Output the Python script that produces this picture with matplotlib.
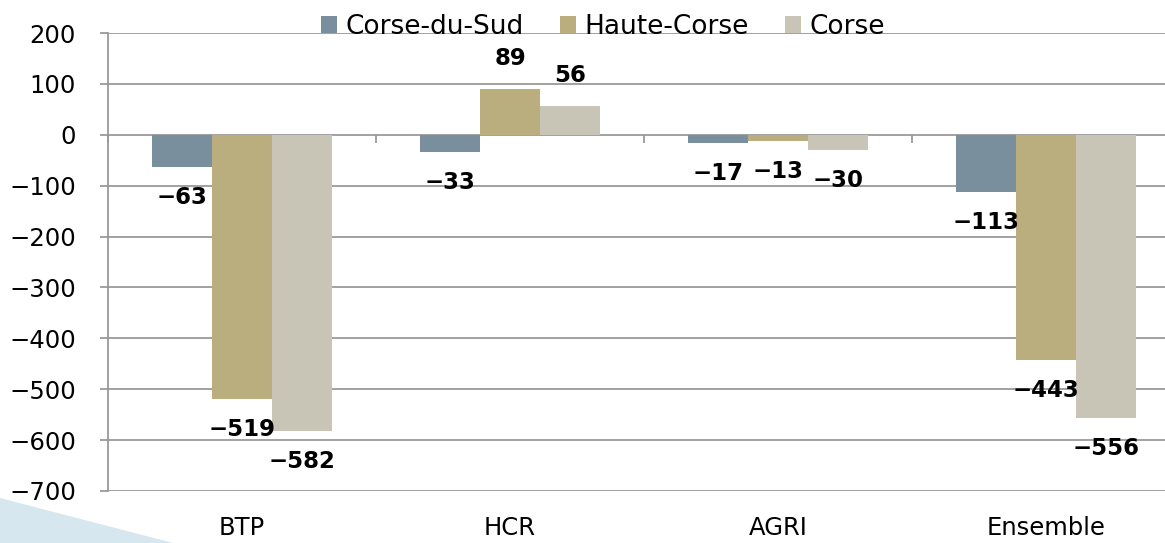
import matplotlib
matplotlib.use("Agg")
import matplotlib.pyplot as plt
import numpy as np
from matplotlib.patches import Polygon

# ---- data ----
categories = ["BTP", "HCR", "AGRI", "Ensemble"]
series_names = ["Corse-du-Sud", "Haute-Corse", "Corse"]
corse_du_sud = [-63, -33, -17, -113]
haute_corse = [-519, 89, -13, -443]
corse = [-582, 56, -30, -556]
yticks = [200, 100, 0, -100, -200, -300, -400, -500, -600, -700]

colors = ["#7a8f9e", "#bbae7e", "#c8c5b6"]
grid_color = "#9a9a9a"

plt.rcParams["font.family"] = ["DejaVu Sans"]
plt.rcParams["axes.unicode_minus"] = True

W, H = 1165, 543
fig = plt.figure(figsize=(W / 100, H / 100), dpi=100)

# decorative light blue wedge bottom-left
wedge = Polygon([[0, 0], [0, 45 / H], [173 / W, 0]], closed=True,
                transform=fig.transFigure, facecolor="#d6e7ef", edgecolor="none", zorder=0)
fig.patches.append(wedge)

ax = fig.add_axes([108 / W, 52 / H, 1072 / W, 458 / H])
ax.set_facecolor("none")

x = np.arange(len(categories))
w = 0.224
all_series = [corse_du_sud, haute_corse, corse]
for i, (vals, name, c) in enumerate(zip(all_series, series_names, colors)):
    pos = x + (i - 1) * w
    ax.bar(pos, vals, width=w, color=c, edgecolor="none", label=name, zorder=2)
    for px, v in zip(pos, vals):
        off = 22 if v >= 0 else -22
        ax.annotate(f"{v}".replace("-", "\u2212"), (px, v), xytext=(0, off),
                    textcoords="offset points", ha="center", va="center",
                    fontsize=16.5, fontweight="bold", color="black", zorder=4)

ax.set_xlim(-0.5, len(categories) - 0.5)
ax.set_ylim(min(yticks), max(yticks))
ax.set_yticks(yticks)
ax.yaxis.grid(True, color=grid_color, linewidth=1.3, zorder=0)
ax.set_axisbelow(True)

for s in ["top", "right", "bottom"]:
    ax.spines[s].set_visible(False)
ax.spines["left"].set_color(grid_color)
ax.spines["left"].set_linewidth(1.3)

ax.tick_params(axis="y", length=6, width=1.3, color=grid_color, labelsize=17.5, pad=17)
ax.set_xticks(x)
ax.set_xticklabels(categories, fontsize=17.5)
ax.tick_params(axis="x", length=0, pad=18)

# zero line with category boundary ticks
zero_pos = (0 - min(yticks)) / (max(yticks) - min(yticks))
sec = ax.secondary_xaxis(zero_pos)
sec.set_xticks(np.arange(len(categories) + 1) - 0.5)
sec.tick_params(axis="x", direction="out", length=6, width=1.3, color=grid_color,
                labelbottom=False, labeltop=False, top=False, bottom=True)
sec.spines["bottom"].set_color("#8a8a8a")
sec.spines["bottom"].set_linewidth(1.7)
for s in ["top", "left", "right"]:
    sec.spines[s].set_visible(False)

leg = ax.legend(loc="center", bbox_to_anchor=(603 / W, 1 - 27 / H), bbox_transform=fig.transFigure,
                ncol=3, frameon=False, fontsize=19, handlelength=0.6, handleheight=0.6,
                handletextpad=0.3, columnspacing=1.4, borderaxespad=0)

fig.savefig("out.png", dpi=100)
